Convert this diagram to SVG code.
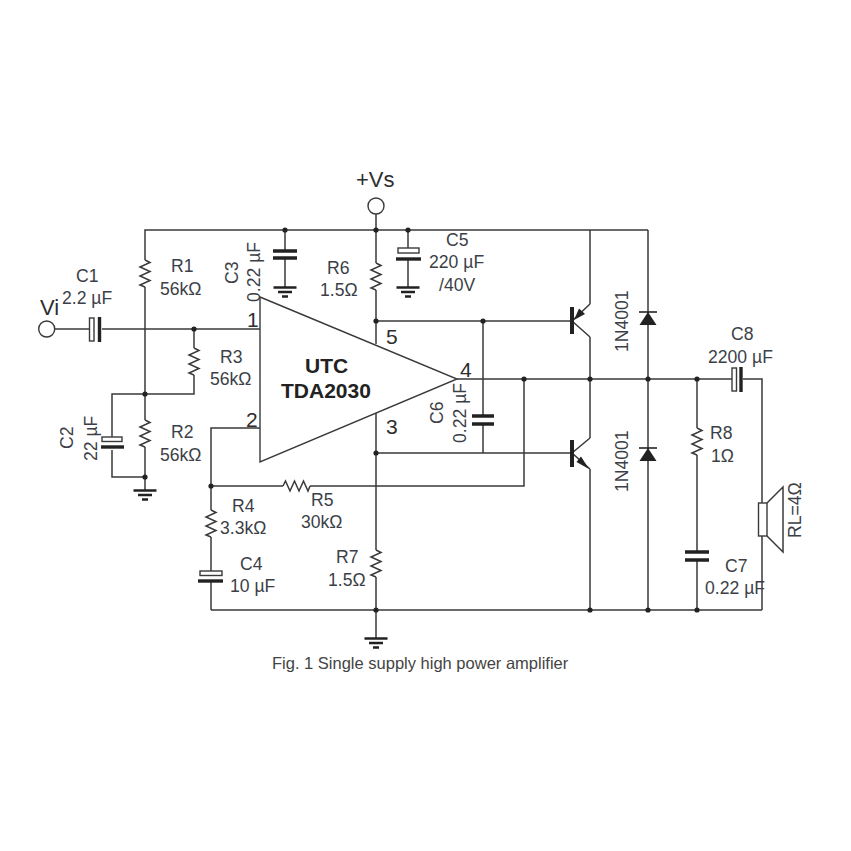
<svg xmlns="http://www.w3.org/2000/svg" xmlns:xlink="http://www.w3.org/1999/xlink" width="851" height="851" viewBox="0 0 851 851">
<style>
.w{fill:none;stroke:#3a3a3a;stroke-width:1.5}
.p{fill:none;stroke:#222;stroke-width:3.4}
.o{fill:#fff;stroke:#3a3a3a;stroke-width:1.4}
.d{fill:#222;stroke:none}
.g{fill:none;stroke:#222;stroke-width:2.4}
.k{fill:none;stroke:#222;stroke-width:1.6}
.n{fill:none;stroke:#222;stroke-width:4}
text{font-family:"Liberation Sans",Arial,sans-serif;font-size:17.6px;fill:#3c3f47}
.vi{font-size:22px;fill:#2e2e2e}
.big{font-size:21px;fill:#2e2e2e}
.b{font-size:21px;font-weight:bold;fill:#222}
.cap{font-size:16.5px;fill:#444}
</style>
<defs>
<path id="rv" class="w" d="M0 0L5 2.500L-5 7L5 11.500L-5 16L5 20.500L-5 25L0 27"/>
<path id="rh" class="w" d="M0 0L2.500 -5L7 5L11.500 -5L16 5L20.500 -5L25 5L27 0"/>
<path id="gnd" class="g" d="M-11.500 2.500H11.500M-7 7H7M-3 11.500H3"/>
<circle id="dot" class="d" r="2.600"/>
</defs>
<rect width="851" height="851" fill="#fff"/>
<g id="connectors">
<path class="w" d="M145 260V230H648M145 287V420M145 447V477M55 329H89M102 329H260M194 329V348M194 375V394H112V437M112 450V477H145V490"/>
<path class="w" d="M285 230V251M285 258V287M376 214V263M376 290V344M376 413V550M376 577V638M408 230V248M408 259V287"/>
<path class="w" d="M376 321H570M376 453H570M483 321V416M483 424V453M457 379H732M743 379H762V503M762 536V610M211 610H762"/>
<path class="w" d="M260 428H211V510M211 486H283M310 486H524V379M211 537V571M211 581V610"/>
<path class="w" d="M590 230V304M590 337V438M590 469V610M648 230V610M697 379V428M697 455V552M697 560V610"/>
</g>
<g id="Vi"><circle class="o" cx="46.700" cy="329" r="8"/><text class="vi" x="40" y="315">Vi</text></g>
<g id="Vs"><circle class="o" cx="376" cy="206" r="8"/><text class="vi" x="356" y="187">+Vs</text></g>
<g id="C1"><rect class="o" x="89.500" y="318" width="4.500" height="23"/><path class="p" d="M99.500 317V342"/><text x="76" y="282">C1</text><text x="62" y="304">2.2 µF</text></g>
<g id="R1"><use xlink:href="#rv" href="#rv" x="145" y="260"/><text x="171" y="272">R1</text><text x="160" y="295">56kΩ</text></g>
<g id="R2"><use xlink:href="#rv" href="#rv" x="145" y="420"/><text x="171" y="438">R2</text><text x="160" y="461">56kΩ</text></g>
<g id="R3"><use xlink:href="#rv" href="#rv" x="194" y="348"/><text x="220" y="363">R3</text><text x="210" y="385">56kΩ</text></g>
<g id="C2"><rect class="o" x="102" y="437" width="20" height="4.500"/><path class="p" d="M101 447H124"/><text transform="translate(73 449) rotate(-90)">C2</text><text transform="translate(97 461) rotate(-90)">22 µF</text><use xlink:href="#gnd" href="#gnd" x="145" y="488"/></g>
<g id="C3"><path class="p" d="M273 251H297M273 258H297"/><use xlink:href="#gnd" href="#gnd" x="285" y="285"/><text transform="translate(238 284) rotate(-90)">C3</text><text transform="translate(260 302) rotate(-90)">0.22 µF</text></g>
<g id="C4"><rect class="o" x="200" y="571" width="22" height="4.500"/><path class="p" d="M198 581H223"/><text x="240" y="570">C4</text><text x="230" y="592">10 µF</text></g>
<g id="C5"><rect class="o" x="398" y="248" width="21" height="5"/><path class="p" d="M396 259H421"/><use xlink:href="#gnd" href="#gnd" x="408" y="285"/><text x="446" y="246">C5</text><text x="429" y="268">220 µF</text><text x="439" y="291">/40V</text></g>
<g id="R6"><use xlink:href="#rv" href="#rv" x="376" y="263"/><text x="327" y="274">R6</text><text x="320" y="296">1.5Ω</text></g>
<g id="U1"><path class="o" d="M260 297L457 379L260 462Z"/><text class="big" x="247" y="327">1</text><text class="big" x="246" y="427">2</text><text class="big" x="386" y="434">3</text><text class="big" x="460" y="377">4</text><text class="big" x="386" y="344">5</text><text class="b" x="305" y="373">UTC</text><text class="b" x="281" y="398">TDA2030</text></g>
<g id="C6"><path class="p" d="M472 416H494M472 424H494"/><text transform="translate(443 424) rotate(-90)">C6</text><text transform="translate(466 443) rotate(-90)">0.22 µF</text></g>
<g id="R5"><use xlink:href="#rh" href="#rh" x="283" y="486"/><text x="311" y="506">R5</text><text x="301" y="528">30kΩ</text></g>
<g id="R4"><use xlink:href="#rv" href="#rv" x="211" y="510"/><text x="232" y="512">R4</text><text x="220" y="534">3.3kΩ</text></g>
<g id="R7"><use xlink:href="#rv" href="#rv" x="376" y="550"/><text x="336" y="563">R7</text><text x="328" y="586">1.5Ω</text><use xlink:href="#gnd" href="#gnd" x="376" y="636"/></g>
<g id="Q1"><path class="w" d="M590 304L572 321L590 337"/><path class="n" d="M572 307V334"/><path class="d" d="M574 320L579 308.500L585 314Z"/></g>
<g id="Q2"><path class="w" d="M590 438L572 453L590 469"/><path class="n" d="M572 440V467"/><path class="d" d="M589 469L576.500 462L581 456.500Z"/></g>
<g id="D1"><path class="d" d="M648 312L656.500 325H639.500Z"/><path class="k" d="M639 312H657"/><text transform="translate(628 352) rotate(-90)">1N4001</text></g>
<g id="D2"><path class="d" d="M648 448L656.500 461H639.500Z"/><path class="k" d="M639 448H657"/><text transform="translate(628 492) rotate(-90)">1N4001</text></g>
<g id="C8"><rect class="o" x="732" y="368" width="4.500" height="23"/><path class="p" d="M741 367V392"/><text x="731" y="340">C8</text><text x="708" y="363">2200 µF</text></g>
<g id="R8"><use xlink:href="#rv" href="#rv" x="697" y="428"/><text x="710" y="439">R8</text><text x="711" y="462">1Ω</text></g>
<g id="C7"><path class="p" d="M685 552H709M685 560H709"/><text x="725" y="572">C7</text><text x="705" y="594">0.22 µF</text></g>
<g id="RL"><rect class="o" x="758.500" y="503" width="8.500" height="33"/><path class="w" d="M767 503L783 487V552L767 536"/><text transform="translate(801 538) rotate(-90)">RL=4Ω</text></g>
<g id="junctions">
<use xlink:href="#dot" href="#dot" x="285" y="230"/><use xlink:href="#dot" href="#dot" x="376" y="230"/><use xlink:href="#dot" href="#dot" x="408" y="230"/>
<use xlink:href="#dot" href="#dot" x="194" y="329"/><use xlink:href="#dot" href="#dot" x="145" y="394"/><use xlink:href="#dot" href="#dot" x="145" y="477"/>
<use xlink:href="#dot" href="#dot" x="376" y="321"/><use xlink:href="#dot" href="#dot" x="483" y="321"/><use xlink:href="#dot" href="#dot" x="376" y="453"/>
<use xlink:href="#dot" href="#dot" x="524" y="379"/><use xlink:href="#dot" href="#dot" x="590" y="379"/><use xlink:href="#dot" href="#dot" x="648" y="379"/><use xlink:href="#dot" href="#dot" x="697" y="379"/>
<use xlink:href="#dot" href="#dot" x="211" y="486"/><use xlink:href="#dot" href="#dot" x="376" y="610"/><use xlink:href="#dot" href="#dot" x="590" y="610"/><use xlink:href="#dot" href="#dot" x="648" y="610"/><use xlink:href="#dot" href="#dot" x="697" y="610"/>
</g>
<text class="cap" x="272" y="669">Fig. 1 Single supply high power amplifier</text>
</svg>
